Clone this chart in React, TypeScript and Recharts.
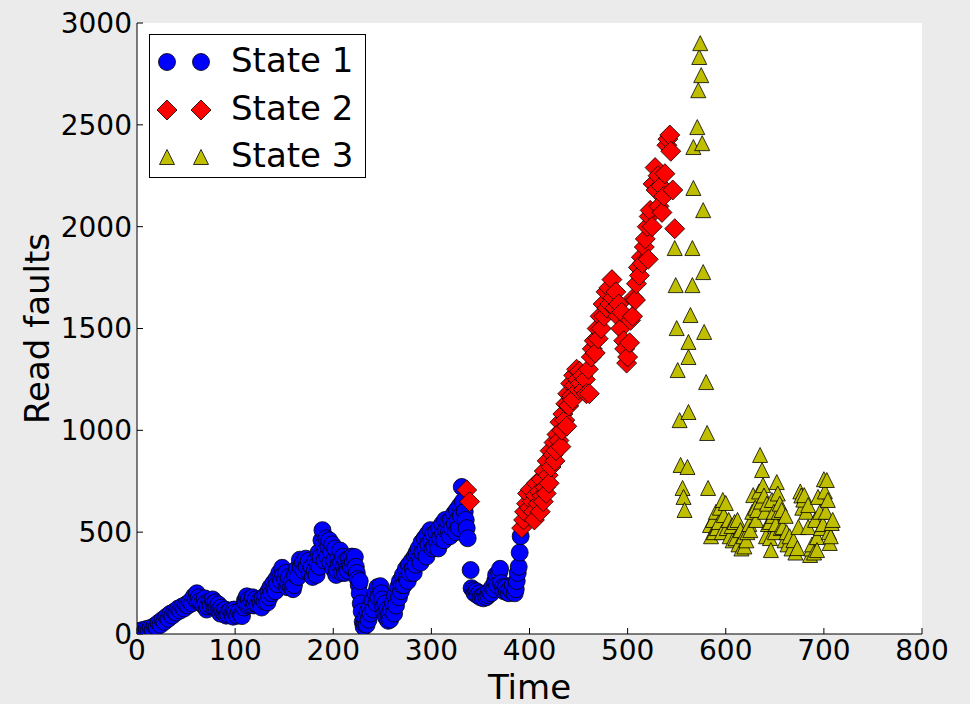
import { ScatterChart, Scatter, XAxis, YAxis, CartesianGrid, Legend } from 'recharts'

const timeTicks = [0, 100, 200, 300, 400, 500, 600, 700, 800]
const faultTicks = [0, 500, 1000, 1500, 2000, 2500, 3000]
const seriesNames = ['State 1', 'State 2', 'State 3']

// [time, read faults]
const state1: [number, number][] = [
  [0, 8], [2, 15], [4, 5], [6, 20], [8, 12], [10, 25], [12, 18], [14, 30], [16, 22], [18, 40],
  [20, 35], [22, 55], [24, 45], [26, 70], [28, 60], [30, 85], [32, 75], [34, 100], [36, 90], [38, 110],
  [40, 105], [42, 125], [44, 115], [46, 135], [48, 125], [50, 145], [52, 140], [54, 160], [56, 150], [58, 185],
  [60, 170], [61, 200], [62, 160], [63, 180], [64, 160], [66, 150], [68, 140], [69, 175], [70, 150], [71, 120],
  [72, 135], [74, 160], [75, 140], [77, 170], [78, 150], [79, 130], [80, 155], [81, 130], [83, 145], [84, 120],
  [85, 100], [86, 130], [87, 110], [89, 100], [90, 120], [91, 90], [92, 105], [93, 95], [95, 115], [97, 100],
  [98, 85], [99, 120], [100, 105], [102, 90], [104, 110], [106, 95], [107, 88], [109, 130], [110, 165], [111, 150],
  [112, 185], [113, 140], [114, 170], [115, 145], [117, 160], [118, 180], [119, 140], [120, 150], [121, 170], [123, 145],
  [125, 165], [126, 150], [127, 130], [128, 175], [130, 160], [131, 190], [133, 155], [134, 210], [135, 180], [136, 230],
  [137, 200], [139, 250], [140, 225], [141, 210], [142, 270], [143, 245], [145, 300], [146, 275], [147, 260], [148, 325],
  [149, 290], [151, 270], [152, 300], [153, 230], [154, 250], [155, 280], [157, 230], [158, 260], [159, 220], [160, 240],
  [161, 290], [163, 320], [164, 280], [166, 365], [167, 330], [169, 350], [170, 310], [172, 370], [173, 330], [175, 360],
  [176, 300], [178, 330], [179, 280], [181, 310], [182, 360], [183, 290], [184, 340], [185, 400], [186, 330], [187, 380],
  [188, 460], [189, 510], [190, 440], [191, 360], [192, 410], [193, 470], [194, 380], [195, 430], [196, 460], [197, 350],
  [198, 400], [199, 440], [200, 320], [201, 360], [202, 420], [203, 290], [204, 314], [205, 370], [206, 340], [207, 410],
  [208, 350], [209, 300], [210, 380], [211, 330], [212, 300], [213, 360], [214, 320], [215, 310], [216, 370], [217, 340],
  [218, 330], [219, 380], [220, 350], [221, 320], [222, 378], [223, 330], [224, 300], [225, 270], [226, 240], [227, 200],
  [227, 260], [228, 150], [229, 110], [230, 60], [231, 35], [232, 50], [233, 80], [234, 45], [235, 110], [236, 70],
  [237, 130], [238, 100], [240, 160], [241, 120], [243, 200], [244, 150], [245, 230], [246, 180], [248, 235], [249, 200],
  [250, 170], [251, 130], [252, 100], [253, 150], [254, 80], [255, 120], [256, 65], [257, 100], [258, 70], [259, 120],
  [261, 150], [262, 100], [263, 190], [264, 140], [266, 230], [267, 180], [268, 260], [269, 210], [270, 240], [271, 290],
  [272, 240], [274, 320], [275, 270], [276, 260], [277, 340], [278, 300], [280, 360], [281, 320], [282, 300], [283, 380],
  [284, 340], [285, 400], [287, 420], [288, 370], [289, 350], [290, 450], [291, 400], [293, 470], [294, 420], [295, 380],
  [296, 490], [297, 440], [299, 510], [300, 460], [301, 420], [302, 490], [303, 430], [305, 500], [306, 450], [307, 420],
  [308, 520], [309, 470], [311, 540], [312, 490], [313, 460], [314, 560], [315, 510], [317, 550], [318, 500], [319, 480],
  [320, 560], [321, 520], [323, 590], [324, 540], [325, 500], [326, 610], [327, 560], [328, 520], [329, 630], [330, 580],
  [331, 722], [332, 650], [334, 600], [335, 560], [336, 520], [337, 470], [340, 314], [341, 225], [343, 215], [344, 200],
  [346, 210], [347, 190], [349, 200], [350, 180], [352, 185], [353, 175], [355, 195], [356, 180], [358, 190], [359, 210],
  [361, 200], [362, 230], [364, 220], [365, 260], [366, 290], [367, 240], [369, 300], [370, 320], [371, 250], [373, 230],
  [374, 210], [376, 230], [377, 205], [379, 200], [380, 220], [382, 210], [383, 240], [385, 200], [386, 220], [387, 260],
  [388, 300], [389, 330], [390, 400], [391, 480],
]

const state2: [number, number][] = [
  [336, 707], [339, 650],
  [392, 520], [394, 560], [395, 600], [397, 640], [398, 690], [400, 620], [401, 710], [403, 650], [404, 600],
  [405, 560], [406, 680], [407, 740], [409, 640], [410, 700], [411, 600], [412, 760], [413, 680], [414, 650],
  [415, 800], [416, 720], [417, 690], [418, 850], [419, 780], [420, 740], [421, 900], [422, 820], [424, 880],
  [425, 940], [426, 850], [427, 900], [428, 980], [430, 950], [431, 1040], [432, 920], [433, 1000], [434, 1080],
  [436, 1050], [437, 1130], [438, 1020], [439, 1180], [440, 1120], [442, 1230], [443, 1170], [444, 1150], [445, 1270],
  [446, 1220], [448, 1300], [449, 1250], [450, 1200], [451, 1290], [452, 1230], [454, 1270], [455, 1200], [457, 1250],
  [458, 1180], [460, 1300], [461, 1180], [463, 1360], [464, 1400], [466, 1440], [467, 1380], [469, 1500], [470, 1450],
  [472, 1560], [473, 1500], [475, 1620], [476, 1560], [478, 1680], [479, 1600], [481, 1700], [482, 1620], [484, 1740],
  [485, 1650], [487, 1600], [488, 1680], [490, 1560], [491, 1620], [493, 1500], [494, 1580], [496, 1440], [497, 1400],
  [499, 1330], [500, 1360], [502, 1430], [503, 1540], [505, 1560], [506, 1650], [508, 1640], [509, 1720], [511, 1800],
  [512, 1760], [514, 1850], [515, 1820], [517, 1900], [518, 1940], [520, 2000], [521, 1840], [522, 2050], [523, 2080],
  [525, 2000], [526, 2210], [528, 2290], [529, 2180], [531, 2250], [532, 2100], [534, 2200], [535, 2070], [537, 2150],
  [538, 2260], [540, 2400], [541, 2430], [543, 2450], [544, 2370], [546, 2180], [548, 1990],
]

const state3: [number, number][] = [
  [548, 1895], [549, 1713], [550, 1502], [551, 1296], [553, 1050], [554, 830], [556, 717], [557, 673], [558, 609],
  [561, 820], [562, 1090], [562, 1360], [562, 1434], [564, 1566], [566, 1713], [566, 1895], [567, 2190], [567, 2391],
  [571, 2489], [572, 2670], [573, 2833], [574, 2901], [575, 2744], [576, 2410], [577, 2081], [577, 1777], [578, 1483],
  [580, 1237], [581, 987], [582, 717],
  [584, 535], [585, 480], [587, 560], [588, 500], [590, 600], [591, 520], [593, 550], [594, 620], [596, 500],
  [597, 658], [598, 584], [600, 643], [601, 520], [603, 560], [604, 480], [606, 530], [607, 460], [609, 550],
  [610, 470], [612, 560], [613, 440], [615, 510], [616, 420], [618, 480], [619, 430], [621, 460], [622, 500],
  [624, 540], [625, 510], [627, 600], [628, 682], [630, 620], [631, 560], [632, 609], [634, 700], [635, 879],
  [636, 650], [637, 805], [638, 731], [639, 680], [640, 600], [641, 480], [642, 640], [643, 540], [645, 550],
  [645, 471], [646, 412], [647, 658], [648, 580], [649, 600], [650, 500], [651, 540], [652, 746], [653, 690],
  [654, 600], [655, 640], [656, 520], [657, 609], [658, 525], [660, 460], [661, 580], [662, 500], [663, 440],
  [665, 480], [667, 420], [669, 461], [671, 400], [673, 422], [674, 525], [676, 700], [677, 680], [678, 620],
  [679, 660], [680, 682], [682, 600], [684, 633], [684, 525], [686, 388], [687, 420], [688, 440], [690, 400],
  [691, 560], [693, 476], [693, 412], [694, 673], [696, 600], [697, 520], [699, 540], [700, 760], [701, 700],
  [702, 600], [703, 756], [704, 658], [705, 500], [706, 447], [707, 480], [708, 545], [709, 560],
]

const toPoints = (pairs: [number, number][]) => pairs.map(([time, faults]) => ({ time, faults }))

const FONT = '"DejaVu Sans", sans-serif'
const BLUE = '#0000ff'
const RED = '#ff0000'
const OLIVE = '#bfbf00'

function CircleMark({ cx, cy }: any) {
  return <circle cx={cx} cy={cy} r={8.5} fill={BLUE} stroke="#000" strokeWidth={0.8} />
}

function DiamondMark({ cx, cy }: any) {
  const s = 10
  return (
    <path
      d={`M${cx},${cy - s}L${cx + s},${cy}L${cx},${cy + s}L${cx - s},${cy}Z`}
      fill={RED}
      stroke="#000"
      strokeWidth={0.8}
    />
  )
}

function TriangleMark({ cx, cy }: any) {
  const s = 7.5
  return (
    <path
      d={`M${cx},${cy - s}L${cx + s},${cy + s}L${cx - s},${cy + s}Z`}
      fill={OLIVE}
      stroke="#000"
      strokeWidth={0.8}
    />
  )
}

const markers = [CircleMark, DiamondMark, TriangleMark]

function LegendBox() {
  return (
    <div
      style={{
        width: 217,
        height: 144,
        boxSizing: 'border-box',
        border: '1.5px solid #000',
        background: '#fff',
        paddingTop: 3,
        fontFamily: FONT,
      }}
    >
      {seriesNames.map((name, i) => {
        const Mark = markers[i]
        return (
          <div key={name} style={{ height: 47.5, display: 'flex', alignItems: 'center', position: 'relative' }}>
            <svg width={70} height={30} style={{ position: 'absolute', left: 0, top: 9 }}>
              <Mark cx={17} cy={15} />
              <Mark cx={51} cy={15} />
            </svg>
            <span style={{ position: 'absolute', left: 81, top: 2, fontSize: 34, lineHeight: '40px', color: '#000' }}>
              {name}
            </span>
          </div>
        )
      })}
    </div>
  )
}

function XTitle({ viewBox }: any) {
  const vb = viewBox || { x: 137, y: 634, width: 785, height: 70 }
  return (
    <text x={vb.x + vb.width / 2} y={vb.y + 65} textAnchor="middle" fontSize={34} fontFamily={FONT} fill="#000">
      Time
    </text>
  )
}

function YTitle({ viewBox }: any) {
  const vb = viewBox || { x: 0, y: 23, width: 137, height: 611 }
  const x = 49
  const y = vb.y + vb.height / 2
  return (
    <text x={x} y={y} transform={`rotate(-90, ${x}, ${y})`} textAnchor="middle" fontSize={34} fontFamily={FONT} fill="#000">
      Read faults
    </text>
  )
}

const tickStyle = { fontSize: 28, fill: '#000', fontFamily: FONT }

export default function App() {
  return (
    <div style={{ position: 'absolute', left: 0, top: 0, width: 970, height: 704, background: '#ebebeb', fontFamily: FONT }}>
      <ScatterChart width={970} height={704} margin={{ top: 23, right: 48, bottom: 0, left: 0 }}>
        <CartesianGrid horizontal={false} vertical={false} fill="#fff" />
        <XAxis
          dataKey="time"
          type="number"
          domain={[0, 800]}
          ticks={timeTicks}
          interval={0}
          height={70}
          tickSize={-6}
          tickMargin={12}
          tick={tickStyle}
          axisLine={{ stroke: '#000' }}
          tickLine={{ stroke: '#000' }}
          allowDataOverflow
          label={{ content: XTitle }}
        />
        <XAxis
          xAxisId="top"
          orientation="top"
          type="number"
          domain={[0, 800]}
          ticks={timeTicks}
          interval={0}
          height={0}
          tickSize={-6}
          tickFormatter={() => ''}
          axisLine={{ stroke: '#000' }}
          tickLine={{ stroke: '#000' }}
          allowDataOverflow
        />
        <YAxis
          dataKey="faults"
          type="number"
          domain={[0, 3000]}
          ticks={faultTicks}
          interval={0}
          width={137}
          tickSize={-6}
          tickMargin={11}
          tick={tickStyle}
          axisLine={{ stroke: '#000' }}
          tickLine={{ stroke: '#000' }}
          allowDataOverflow
          label={{ content: YTitle }}
        />
        <YAxis
          yAxisId="right"
          orientation="right"
          type="number"
          domain={[0, 3000]}
          ticks={faultTicks}
          interval={0}
          width={0}
          tickSize={-6}
          tickFormatter={() => ''}
          axisLine={{ stroke: '#000' }}
          tickLine={{ stroke: '#000' }}
          allowDataOverflow
        />
        <Legend
          layout="vertical"
          align="center"
          verticalAlign="middle"
          wrapperStyle={{ left: 149, top: 34, width: 217, height: 144 }}
          content={() => <LegendBox />}
        />
        <Scatter name={seriesNames[0]} data={toPoints(state1)} shape={CircleMark} isAnimationActive={false} />
        <Scatter name={seriesNames[1]} data={toPoints(state2)} shape={DiamondMark} isAnimationActive={false} />
        <Scatter name={seriesNames[2]} data={toPoints(state3)} shape={TriangleMark} isAnimationActive={false} />
      </ScatterChart>
    </div>
  )
}
